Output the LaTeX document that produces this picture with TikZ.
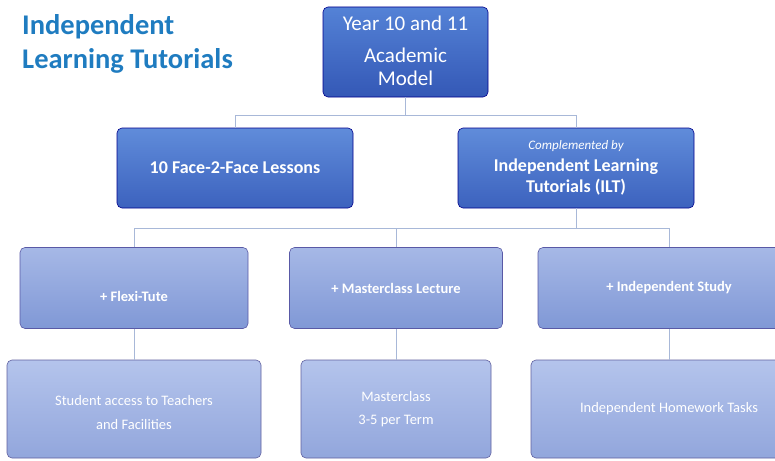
\documentclass[tikz,border=0pt]{standalone}
\usepackage{fontspec}
\setmainfont{Carlito}
\usetikzlibrary{positioning}
\definecolor{titleblue}{HTML}{1F7CC0}
\definecolor{linkblue}{HTML}{A8B8D8}
\tikzset{
  box/.style={rectangle, rounded corners=5pt, align=center, text=white, draw=#1, line width=0.6pt},
  topbox/.style={box=blue!55!black, top color={rgb,255:red,84;green,130;blue,214}, bottom color={rgb,255:red,52;green,88;blue,182}},
  midbox/.style={box=blue!55!black, top color={rgb,255:red,96;green,140;blue,218}, bottom color={rgb,255:red,60;green,98;blue,190}},
  tutbox/.style={box=blue!30!gray, top color={rgb,255:red,166;green,184;blue,230}, bottom color={rgb,255:red,128;green,152;blue,214}},
  taskbox/.style={box=blue!25!gray, top color={rgb,255:red,180;green,196;blue,236}, bottom color={rgb,255:red,146;green,166;blue,220}},
  link/.style={draw=linkblue, line width=1pt}
}
\begin{document}
\begin{tikzpicture}[x=1pt,y=-1pt]
  \useasboundingbox (0,0) rectangle (775,460);
  \clip (0,0) rectangle (775,460);
  % title
  \node[anchor=north west, align=left, text=titleblue, font=\fontsize{28.5}{34}\selectfont\bfseries, inner sep=0pt] (title) at (22,14)
    {Independent\\Learning Tutorials};
  % level 1
  \node[topbox, minimum width=165pt, minimum height=90pt, font=\fontsize{21}{23}\selectfont] (model) at (405.5,52)
    {\raisebox{2pt}[\height][\depth]{Year 10 and 11}\\[7pt]Academic\\Model};
  % level 2
  \node[midbox, minimum width=236pt, minimum height=80pt, font=\fontsize{18}{20}\selectfont\bfseries] (lessons) at (235,168)
    {10 Face-2-Face Lessons};
  \node[midbox, minimum width=236pt, minimum height=80pt, font=\fontsize{18}{21}\selectfont\bfseries] (ilt) at (576,168)
    {{\fontsize{13}{15}\selectfont\mdseries\itshape Complemented by}\\[1pt]Independent Learning\\Tutorials (ILT)};
  % level 3
  \node[tutbox, minimum width=228pt, minimum height=81pt, font=\fontsize{14.5}{16}\selectfont\bfseries] (flexi) at (134,288)
    {\raisebox{-8pt}[\height][\depth]{+ Flexi-Tute}};
  \node[tutbox, minimum width=213pt, minimum height=81pt, font=\fontsize{14.5}{16}\selectfont\bfseries] (lecture) at (396,288)
    {+ Masterclass Lecture};
  \node[tutbox, minimum width=262pt, minimum height=81pt, font=\fontsize{14.5}{16}\selectfont\bfseries] (study) at (669,288)
    {+ Independent Study};
  % level 4
  \node[taskbox, minimum width=254pt, minimum height=98pt, font=\fontsize{14.5}{24}\selectfont] (access) at (134,409)
    {\raisebox{-4pt}[\height][\depth]{Student access to Teachers}\\\raisebox{-4pt}[\height][\depth]{and Facilities}};
  \node[taskbox, minimum width=190pt, minimum height=98pt, font=\fontsize{14.5}{23}\selectfont] (masterclass) at (396,409)
    {Masterclass\\3-5 per Term};
  \node[taskbox, minimum width=276pt, minimum height=98pt, font=\fontsize{14.5}{16}\selectfont] (homework) at (669,409)
    {Independent Homework Tasks};
  % connectors
  \draw[link] (model.south) -- ++(0,18) -| (lessons.north);
  \draw[link] (model.south) -- ++(0,18) -| (ilt.north);
  \draw[link] (ilt.south) -- ++(0,20) -| (flexi.north);
  \draw[link] (ilt.south) -- ++(0,20) -| (lecture.north);
  \draw[link] (ilt.south) -- ++(0,20) -| (study.north);
  \draw[link] (flexi.south) -- (access.north);
  \draw[link] (lecture.south) -- (masterclass.north);
  \draw[link] (study.south) -- (homework.north);
\end{tikzpicture}
\end{document}
